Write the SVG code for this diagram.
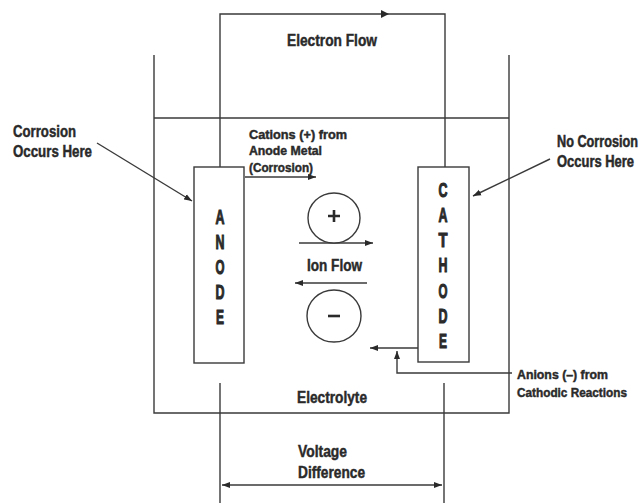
<svg xmlns="http://www.w3.org/2000/svg" width="642" height="504" viewBox="0 0 642 504">
<style>
.ln{fill:none;stroke:#3a3a3a;stroke-width:1.4}
.box{fill:#fff;stroke:#3a3a3a;stroke-width:1.4}
.t{font-family:"Liberation Sans",Arial,sans-serif;font-weight:bold;fill:#2a2a2a;stroke:#2a2a2a;stroke-width:0.45}
.l16{font-size:16px}
.l13{font-size:13px}
.r{font-size:12.8px;stroke-width:0.4}
.big{font-size:21px;text-anchor:middle;stroke-width:1.1}
</style>
<defs>
<marker id="ah" markerWidth="9" markerHeight="7" refX="8" refY="3.5" orient="auto-start-reverse" markerUnits="userSpaceOnUse">
<path d="M0,0.5 L8,3.5 L0,6.5 z" fill="#2a2a2a"/>
</marker>
</defs>
<rect width="642" height="504" fill="#fff"/>

<g id="tank">
<path class="ln" d="M154,55 V413 H509 V55"/>
<path class="ln" d="M154,118 H509"/>
<text class="t l16" x="297" y="403" textLength="70" lengthAdjust="spacingAndGlyphs">Electrolyte</text>
</g>

<g id="connectors">
<path class="ln" d="M220,167 V14 H445 V167"/>
<path d="M381,10 L389,14 L381,18 z" fill="#2a2a2a"/>
<path class="ln" d="M220,383 V503"/>
<path class="ln" d="M444,383 V503"/>
<path class="ln" d="M222,485 H442" marker-start="url(#ah)" marker-end="url(#ah)"/>
<path class="ln" d="M245,177 H316" marker-end="url(#ah)"/>
<path class="ln" d="M299,243 H373" marker-end="url(#ah)"/>
<path class="ln" d="M367,283 H295" marker-end="url(#ah)"/>
<path class="ln" d="M418,348 H370" marker-end="url(#ah)"/>
<path class="ln" d="M512,373 H397 V351" marker-end="url(#ah)"/>
<path class="ln" d="M97,143 L192,201" marker-end="url(#ah)"/>
<path class="ln" d="M550,159 L473,196" marker-end="url(#ah)"/>
</g>

<g id="anode">
<rect class="box" x="194" y="167" width="50" height="196"/>
<text class="t big" x="220" y="224" textLength="9" lengthAdjust="spacingAndGlyphs">A</text>
<text class="t big" x="220" y="249" textLength="9" lengthAdjust="spacingAndGlyphs">N</text>
<text class="t big" x="220" y="274" textLength="9" lengthAdjust="spacingAndGlyphs">O</text>
<text class="t big" x="220" y="299" textLength="9" lengthAdjust="spacingAndGlyphs">D</text>
<text class="t big" x="220" y="324" textLength="8" lengthAdjust="spacingAndGlyphs">E</text>
</g>

<g id="cathode">
<rect class="box" x="418" y="167" width="51" height="195"/>
<text class="t big" x="443" y="197" textLength="9" lengthAdjust="spacingAndGlyphs">C</text>
<text class="t big" x="443" y="222" textLength="9" lengthAdjust="spacingAndGlyphs">A</text>
<text class="t big" x="443" y="247" textLength="9" lengthAdjust="spacingAndGlyphs">T</text>
<text class="t big" x="443" y="272" textLength="9" lengthAdjust="spacingAndGlyphs">H</text>
<text class="t big" x="443" y="298" textLength="9" lengthAdjust="spacingAndGlyphs">O</text>
<text class="t big" x="443" y="323" textLength="9" lengthAdjust="spacingAndGlyphs">D</text>
<text class="t big" x="443" y="348" textLength="8" lengthAdjust="spacingAndGlyphs">E</text>
</g>

<g id="cation">
<ellipse class="box" cx="334" cy="218" rx="26" ry="25"/>
<path d="M328,216 H340 M334,210 V222" stroke="#2a2a2a" stroke-width="2.6" fill="none"/>
</g>

<g id="anion">
<ellipse class="box" cx="334" cy="316" rx="27" ry="26"/>
<path d="M328,316 H340" stroke="#2a2a2a" stroke-width="2.6" fill="none"/>
</g>

<g id="labels">
<text class="t l16" x="287" y="46" textLength="90" lengthAdjust="spacingAndGlyphs">Electron Flow</text>
<text class="t l16" x="13" y="137" textLength="63" lengthAdjust="spacingAndGlyphs">Corrosion</text>
<text class="t l16" x="13" y="157" textLength="79" lengthAdjust="spacingAndGlyphs">Occurs Here</text>
<text class="t r" transform="translate(557,147) scale(1,1.25)" x="0" y="0" textLength="81" lengthAdjust="spacingAndGlyphs">No Corrosion</text>
<text class="t r" transform="translate(557,167) scale(1,1.25)" x="0" y="0" textLength="77" lengthAdjust="spacingAndGlyphs">Occurs Here</text>
<text class="t l13" x="249" y="139" textLength="98" lengthAdjust="spacingAndGlyphs">Cations (+) from</text>
<text class="t l13" x="249" y="155" textLength="73" lengthAdjust="spacingAndGlyphs">Anode Metal</text>
<text class="t l13" x="249" y="172" textLength="64" lengthAdjust="spacingAndGlyphs">(Corrosion)</text>
<text class="t l16" x="307" y="271" textLength="55" lengthAdjust="spacingAndGlyphs">Ion Flow</text>
<text class="t l16" x="298" y="457" textLength="49" lengthAdjust="spacingAndGlyphs">Voltage</text>
<text class="t l16" x="298" y="478" textLength="67" lengthAdjust="spacingAndGlyphs">Difference</text>
<text class="t l13" x="517" y="379" textLength="91" lengthAdjust="spacingAndGlyphs">Anions (–) from</text>
<text class="t l13" x="517" y="397" textLength="110" lengthAdjust="spacingAndGlyphs">Cathodic Reactions</text>
</g>
</svg>
